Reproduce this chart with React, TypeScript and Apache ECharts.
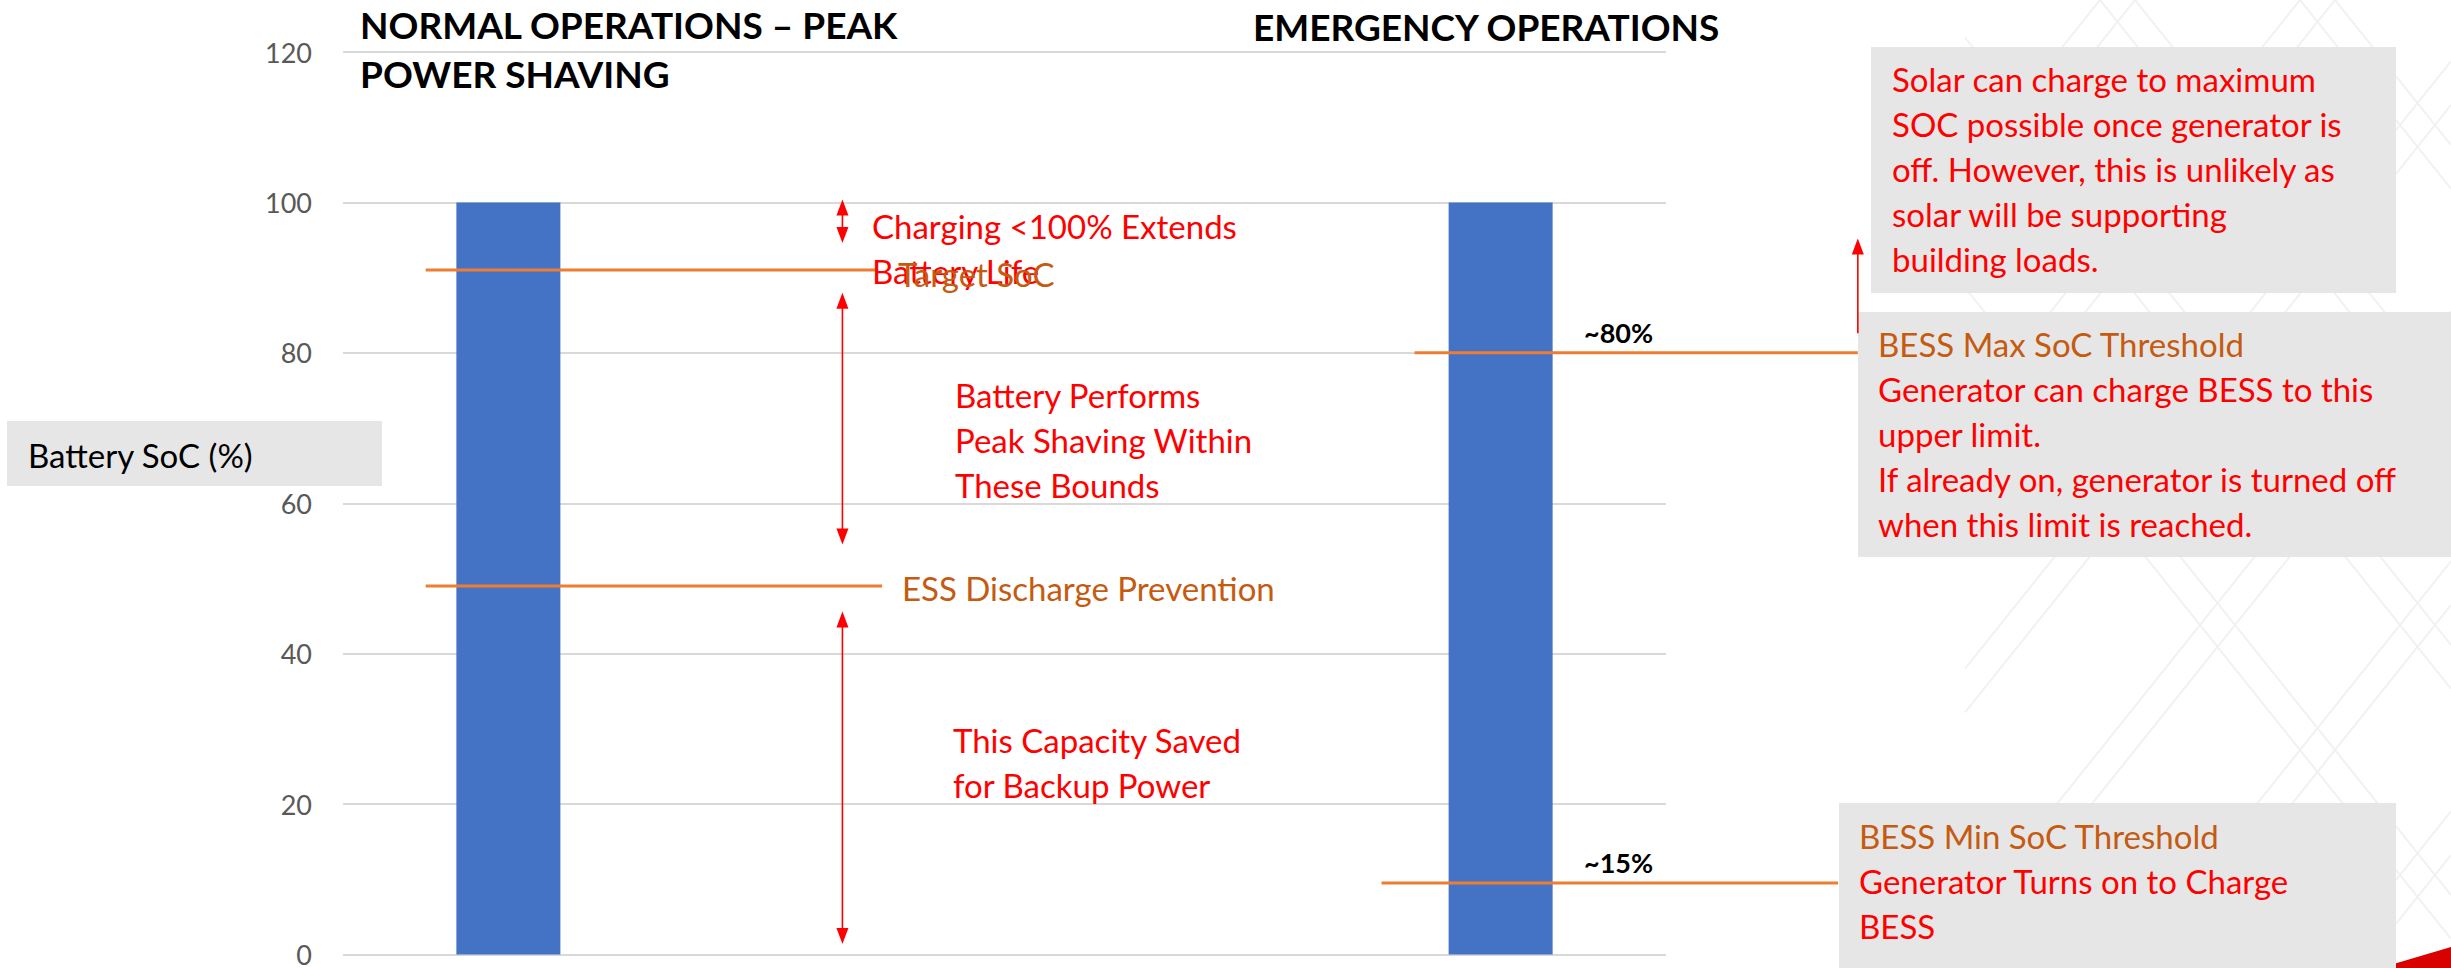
import React, { useEffect, useRef } from "react";
import * as echarts from "echarts";

// ---------- data ----------
const categories = ["Normal Operations", "", "", "Emergency Operations"];
const socValues: (number | null)[] = [100, null, null, 100];
const yMin = 0;
const yMax = 120;
const yInterval = 20;

// threshold lines (x in category-units 0..4, level in % SoC)
const thresholdNames = ["Target SoC", "ESS Discharge Prevention", "BESS Max SoC", "BESS Min SoC"];
const thresholdLevels = [91, 49, 80, 9.5];
const thresholdStart = [0.25, 0.25, 3.24, 3.14];
const thresholdEnd = [1.61, 1.63, 4.58, 4.52];

// red arrows
const arrowPos = [1.51, 1.51, 1.51, 4.58];
const arrowLow = [94.6, 54.5, 1.4, 82.6];
const arrowHigh = [100.4, 88.0, 45.6, 95.2];
const arrowDouble = [1, 1, 1, 0];

// ---------- style ----------
const FONT = "Lato, 'Open Sans', sans-serif";
const RED = "#FF0000";
const ORANGE_TXT = "#C55A11";
const ORANGE_LINE = "#ED7D31";
const BOX = "#E6E6E6";
const BODY = 33;
const LH = 45;

function txt(x: number, y: number, text: string, fill: string, opts: any = {}) {
  return {
    type: "text",
    x,
    y,
    z: 20,
    style: {
      text,
      fill,
      fontFamily: FONT,
      fontSize: opts.fontSize ?? BODY,
      fontWeight: opts.fontWeight ?? "normal",
      lineHeight: opts.lineHeight ?? LH,
      verticalAlign: opts.verticalAlign ?? "top",
      align: "left",
    },
  };
}

function richBox(x: number, y: number, orangeLine: string, redLines: string) {
  return {
    type: "text",
    x,
    y,
    z: 20,
    style: {
      text: `{o|${orangeLine}}\n{r|${redLines.split("\n").join("}\n{r|")}}`,
      fontFamily: FONT,
      fontSize: BODY,
      verticalAlign: "top",
      rich: {
        o: { fill: ORANGE_TXT, fontFamily: FONT, fontSize: BODY, lineHeight: LH },
        r: { fill: RED, fontFamily: FONT, fontSize: BODY, lineHeight: LH },
      },
    },
  };
}

function decoLines() {
  const out: any[] = [];
  const X0 = 1965, X1 = 2451, Y0 = 0, Y1 = 968;
  const m = 1.25;
  const cs = [1700, 1735, 1900, 1935, 2100, 2135, 2300, 2335, 2500, 2535, 2700, 2735, 2900, 2935];
  const clip = (slope: number, c: number) => {
    const pts: number[][] = [];
    const add = (x: number, y: number) => {
      if (x >= X0 - 0.01 && x <= X1 + 0.01 && y >= Y0 - 0.01 && y <= Y1 + 0.01) pts.push([x, y]);
    };
    add(X0, slope * (X0 - c));
    add(X1, slope * (X1 - c));
    add(c + Y0 / slope, Y0);
    add(c + Y1 / slope, Y1);
    if (pts.length >= 2) {
      out.push({
        type: "line",
        z: -5,
        shape: { x1: pts[0][0], y1: pts[0][1], x2: pts[1][0], y2: pts[1][1] },
        style: { stroke: "#F1F1F1", lineWidth: 2 },
      });
    }
  };
  cs.forEach((c) => {
    clip(m, c);
    clip(-m, c + 200);
  });
  return out;
}

export default function App() {
  const ref = useRef<HTMLDivElement>(null);

  useEffect(() => {
    if (!ref.current) return;
    const chart = echarts.init(ref.current, undefined, { renderer: "svg" });

    const thresholdData = thresholdLevels.map((lv, i) => [thresholdStart[i], thresholdEnd[i], lv]);
    const arrowData = arrowPos.map((x, i) => [x, arrowLow[i], arrowHigh[i], arrowDouble[i]]);

    const option: any = {
      animation: false,
      backgroundColor: "#ffffff",
      grid: { left: 343, right: 785, top: 52, bottom: 11, containLabel: false },
      xAxis: [
        {
          type: "category",
          data: categories,
          axisLine: { show: false },
          axisTick: { show: false },
          axisLabel: { show: false },
          splitLine: { show: false },
        },
        { type: "value", min: 0, max: 4, show: false },
      ],
      yAxis: {
        type: "value",
        min: yMin,
        max: yMax,
        interval: yInterval,
        axisLine: { show: false },
        axisTick: { show: false },
        axisLabel: { color: "#595959", fontSize: 27, fontFamily: FONT, margin: 31 },
        splitLine: { lineStyle: { color: "#D9D9D9", width: 2 } },
      },
      series: [
        {
          type: "bar",
          name: "Battery SoC",
          xAxisIndex: 0,
          data: socValues,
          barWidth: 104,
          itemStyle: { color: "#4472C4" },
          z: 2,
        },
        {
          type: "custom",
          name: "Thresholds",
          xAxisIndex: 1,
          clip: false,
          z: 4,
          data: thresholdData,
          encode: { x: [0, 1], y: 2 },
          renderItem: (params: any, api: any) => {
            const p0 = api.coord([api.value(0), api.value(2)]);
            const p1 = api.coord([api.value(1), api.value(2)]);
            return {
              type: "line",
              shape: { x1: p0[0], y1: p0[1], x2: p1[0], y2: p1[1] },
              style: { stroke: ORANGE_LINE, lineWidth: 3 },
            };
          },
        },
        {
          type: "custom",
          name: "Arrows",
          xAxisIndex: 1,
          clip: false,
          z: 30,
          data: arrowData,
          encode: { x: 0, y: [1, 2] },
          renderItem: (params: any, api: any) => {
            const x = api.value(0);
            const lo = api.coord([x, api.value(1)]);
            const hi = api.coord([x, api.value(2)]);
            const dbl = api.value(3) === 1;
            const hh = 16, hw = 6;
            const px = hi[0];
            const children: any[] = [
              {
                type: "line",
                shape: { x1: px, y1: hi[1] + hh - 2, x2: px, y2: dbl ? lo[1] - hh + 2 : lo[1] },
                style: { stroke: RED, lineWidth: 1.6 },
              },
              {
                type: "polygon",
                shape: { points: [[px, hi[1]], [px - hw, hi[1] + hh], [px + hw, hi[1] + hh]] },
                style: { fill: RED },
              },
            ];
            if (dbl) {
              children.push({
                type: "polygon",
                shape: { points: [[px, lo[1]], [px - hw, lo[1] - hh], [px + hw, lo[1] - hh]] },
                style: { fill: RED },
              });
            }
            return { type: "group", children };
          },
        },
      ],
      graphic: [
        ...decoLines(),
        {
          type: "polygon",
          z: -4,
          shape: { points: [[2380, 968], [2451, 947], [2451, 968]] },
          style: { fill: "#D90000" },
        },
        // boxes
        { type: "rect", z: 1, shape: { x: 7, y: 421, width: 375, height: 65 }, style: { fill: BOX } },
        { type: "rect", z: 1, shape: { x: 1871, y: 47, width: 525, height: 246 }, style: { fill: BOX } },
        { type: "rect", z: 1, shape: { x: 1858, y: 312, width: 593, height: 245 }, style: { fill: BOX } },
        { type: "rect", z: 1, shape: { x: 1839, y: 803, width: 557, height: 165 }, style: { fill: BOX } },
        // titles
        txt(360, 0, "NORMAL OPERATIONS – PEAK\nPOWER SHAVING", "#000000", {
          fontSize: 37,
          fontWeight: "bold",
          lineHeight: 49,
        }),
        txt(1253, 26, "EMERGENCY OPERATIONS", "#000000", {
          fontSize: 37,
          fontWeight: "bold",
          verticalAlign: "middle",
          lineHeight: 49,
        }),
        // y-axis title
        txt(28, 455, "Battery SoC (%)", "#000000", { verticalAlign: "middle" }),
        // normal-ops annotations
        txt(872, 203, "Charging <100% Extends\nBattery Life", RED),
        txt(898, 251, thresholdNames[0], ORANGE_TXT),
        txt(955, 372, "Battery Performs\nPeak Shaving Within\nThese Bounds", RED),
        txt(902, 588, thresholdNames[1], ORANGE_TXT, { verticalAlign: "middle" }),
        txt(953, 717, "This Capacity Saved\nfor Backup Power", RED),
        // emergency labels
        txt(1584, 332, "~80%", "#000000", { fontSize: 27, fontWeight: "bold", verticalAlign: "middle" }),
        txt(1584, 862, "~15%", "#000000", { fontSize: 27, fontWeight: "bold", verticalAlign: "middle" }),
        // right boxes text
        txt(
          1892,
          56,
          "Solar can charge to maximum\nSOC possible once generator is\noff. However, this is unlikely as\nsolar will be supporting\nbuilding loads.",
          RED
        ),
        richBox(
          1878,
          321,
          "BESS Max SoC Threshold",
          "Generator can charge BESS to this\nupper limit.\nIf already on, generator is turned off\nwhen this limit is reached."
        ),
        richBox(1859, 813, "BESS Min SoC Threshold", "Generator Turns on to Charge\nBESS"),
      ],
    };

    chart.setOption(option);
    return () => chart.dispose();
  }, []);

  return (
    <div
      ref={ref}
      style={{ position: "fixed", left: 0, top: 0, width: 2451, height: 968, background: "#ffffff" }}
    />
  );
}
